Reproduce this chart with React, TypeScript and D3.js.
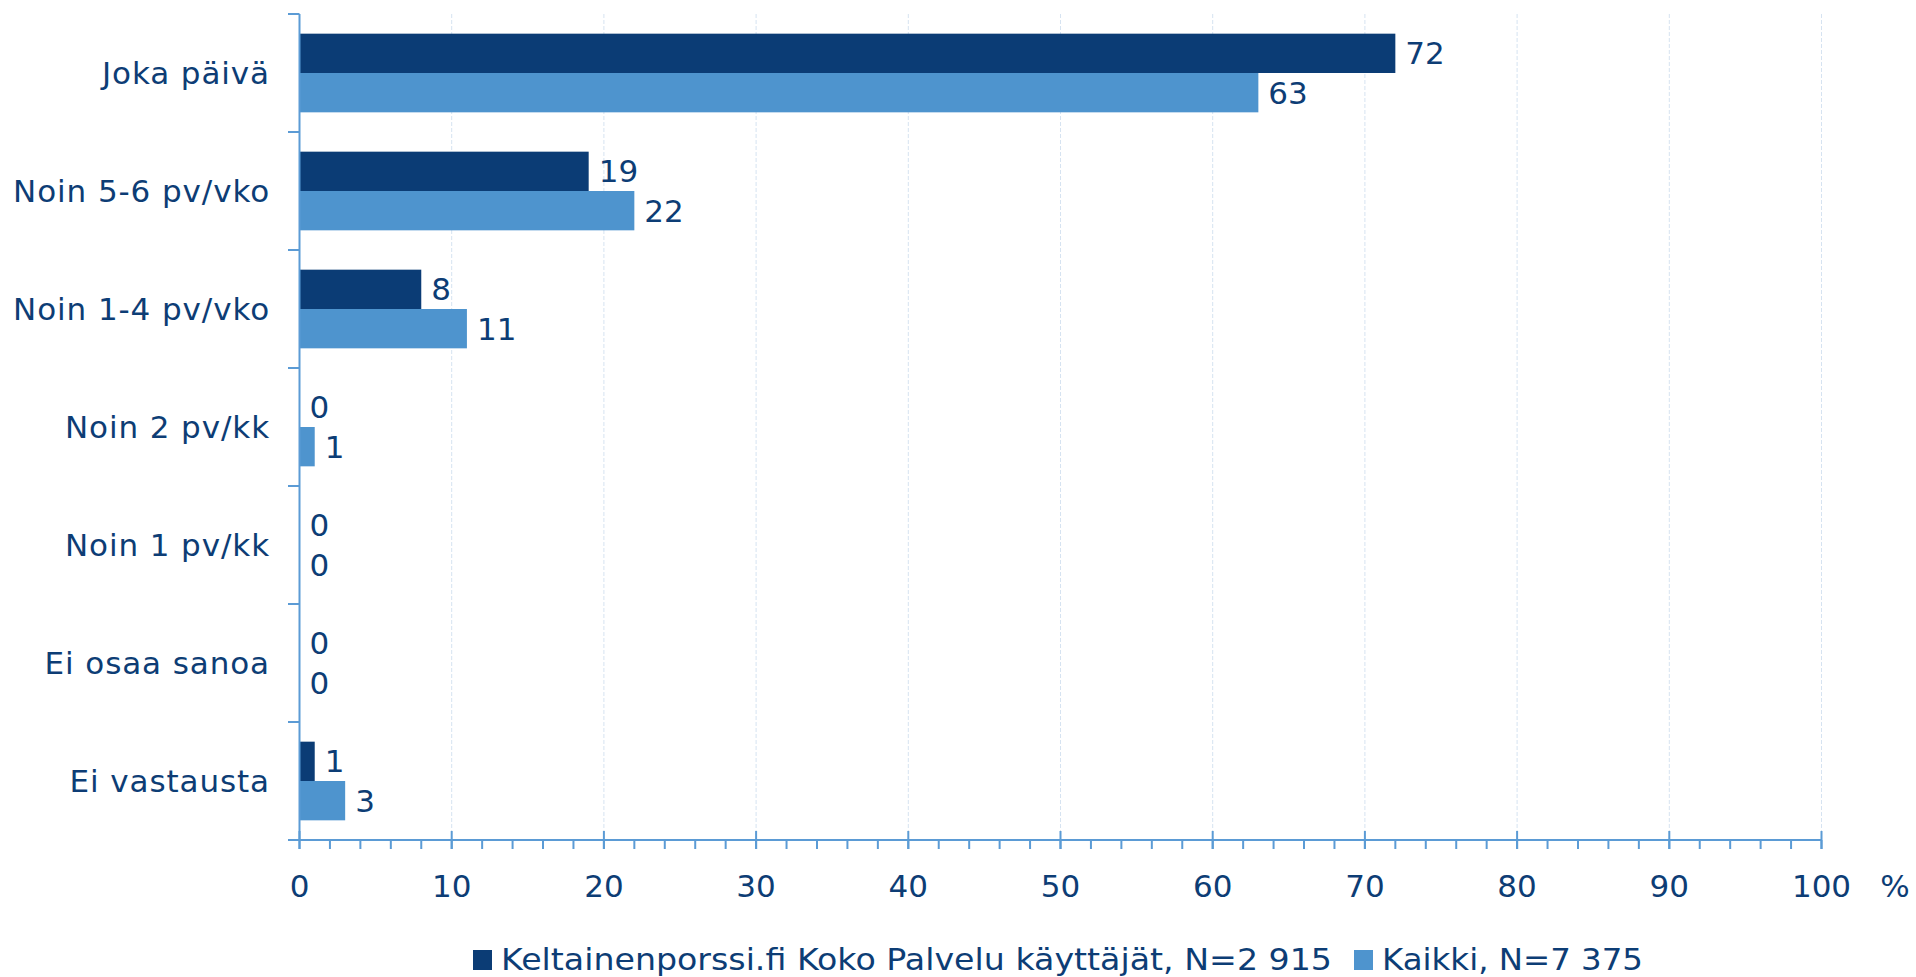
import React from "react";
import * as d3 from "d3";

const categories = ["Joka päivä", "Noin 5-6 pv/vko", "Noin 1-4 pv/vko", "Noin 2 pv/kk", "Noin 1 pv/kk", "Ei osaa sanoa", "Ei vastausta"];
const seriesNames = ["Keltainenporssi.fi Koko Palvelu käyttäjät, N=2 915", "Kaikki, N=7 375"];
const seriesA = [72, 19, 8, 0, 0, 0, 1];
const seriesB = [63, 22, 11, 1, 0, 0, 3];
const xTicks = [0, 10, 20, 30, 40, 50, 60, 70, 80, 90, 100];
const minorTicks = d3.range(0, 101, 2);

const W = 1916, H = 977;
const left = 299.5, right = 1821.5, top = 14, bottom = 840;
const colors = ["#0b3c75", "#4e94ce"];
const textColor = "#0d3d75";
const axisColor = "#5b9bd5";
const font = "'DejaVu Sans', Verdana, sans-serif";

export default function App() {
  const x = d3.scaleLinear().domain([0, 100]).range([left, right]);
  const y = d3.scaleBand().domain(categories).range([top, bottom]).paddingInner(0).paddingOuter(0);
  const inner = d3.scaleBand().domain(["a", "b"]).range([0, y.bandwidth()]).paddingOuter(0.5).paddingInner(0);
  const series = [seriesA, seriesB];
  const keys = ["a", "b"];
  return (
    <svg width={W} height={H} style={{ position: "absolute", left: 0, top: 0, background: "#fff" }} fontFamily={font}>
      {xTicks.slice(1).map((t) => (
        <line key={"g" + t} x1={x(t)} x2={x(t)} y1={top} y2={bottom} stroke="#d6e3f1" strokeWidth={1} strokeDasharray="4,2" />
      ))}
      {categories.map((c, i) =>
        series.map((s, j) => {
          const y0 = (y(c) as number) + (inner(keys[j]) as number);
          const bh = inner.bandwidth();
          const v = s[i];
          return (
            <g key={c + j}>
              {v > 0 && <rect x={x(0)} y={y0} width={x(v) - x(0)} height={bh} fill={colors[j]} />}
              <text x={x(v) + 10} y={y0 + bh / 2} dy="0.36em" fontSize={31} fill={textColor}>{v}</text>
            </g>
          );
        })
      )}
      {/* y axis */}
      <line x1={left} x2={left} y1={top} y2={bottom} stroke={axisColor} strokeWidth={2} />
      {d3.range(categories.length + 1).map((k) => {
        const yy = top + k * y.step();
        return <line key={"yt" + k} x1={288} x2={left} y1={yy} y2={yy} stroke={axisColor} strokeWidth={2} />;
      })}
      {categories.map((c) => (
        <text key={"l" + c} x={270} y={(y(c) as number) + y.bandwidth() / 2} dy="0.36em" textAnchor="end" fontSize={31} letterSpacing={0.9} fill={textColor}>{c}</text>
      ))}
      {/* x axis */}
      <line x1={288} x2={right} y1={bottom} y2={bottom} stroke={axisColor} strokeWidth={2} />
      {minorTicks.map((t) => (
        <line key={"mt" + t} x1={x(t)} x2={x(t)} y1={bottom} y2={bottom + 9} stroke={axisColor} strokeWidth={2} />
      ))}
      {xTicks.map((t) => (
        <g key={"xt" + t}>
          <line x1={x(t)} x2={x(t)} y1={bottom - 9} y2={bottom + 9} stroke={axisColor} strokeWidth={2} />
          <text x={x(t)} y={897} textAnchor="middle" fontSize={31} fill={textColor}>{t}</text>
        </g>
      ))}
      <text x={1895} y={897} textAnchor="middle" fontSize={31} fill={textColor}>%</text>
      {/* legend */}
      <rect x={473} y={950} width={19} height={20} fill={colors[0]} />
      <text x={501} y={970} fontSize={31} fill={textColor} textLength={831} lengthAdjust="spacingAndGlyphs">{seriesNames[0]}</text>
      <rect x={1354} y={950} width={19} height={20} fill={colors[1]} />
      <text x={1382} y={970} fontSize={31} fill={textColor} textLength={261} lengthAdjust="spacingAndGlyphs">{seriesNames[1]}</text>
    </svg>
  );
}
